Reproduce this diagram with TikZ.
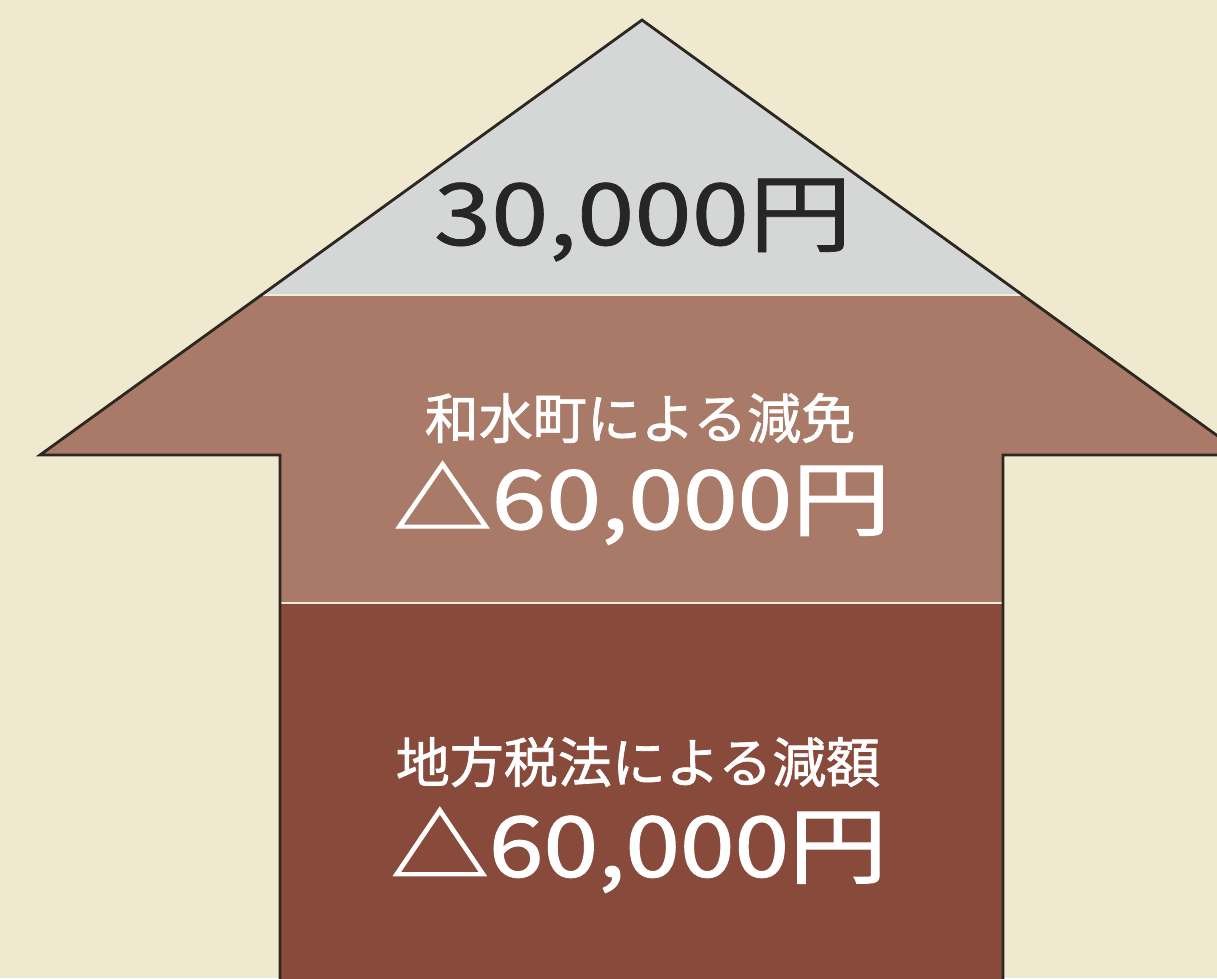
\documentclass[tikz,border=0pt]{standalone}
\usepackage{fontspec}
\newfontfamily\jp[FakeBold=1.3]{Noto Sans CJK JP}
\newfontfamily\jpl[FakeBold=0.8]{Noto Sans CJK JP}
\definecolor{bgcream}{HTML}{EFE9D0}
\definecolor{topgray}{HTML}{D4D7D6}
\definecolor{midbrown}{HTML}{A97A68}
\definecolor{darkbrown}{HTML}{884A3B}
\definecolor{outl}{HTML}{2E2620}
\definecolor{sepline}{HTML}{F2EADA}
\tikzset{
  lbl/.style={inner sep=0pt, text=white, font=\jp},
}
\begin{document}
\begin{tikzpicture}[x=1pt,y=-1pt]
\useasboundingbox (0,0) rectangle (1217,978);
\fill[bgcream] (0,0) rectangle (1217,978);
\def\arrowpath{(642,20) -- (1244,455) -- (1003,455) -- (1003,990) -- (280,990) -- (280,455) -- (40,455) -- cycle}
\begin{scope}
  \clip \arrowpath;
  \fill[topgray] (0,0) rectangle (1300,295);
  \fill[midbrown] (0,295) rectangle (1300,603);
  \fill[darkbrown] (0,603) rectangle (1300,1000);
\end{scope}
\coordinate (s1l) at (262,295);
\coordinate (s1r) at (1022,295);
\coordinate (s2l) at (281,603);
\coordinate (s2r) at (1002,603);
\draw[sepline, line width=2.5pt] (s1l) -- (s1r);
\draw[sepline, line width=2.5pt] (s2l) -- (s2r);
\draw[outl, line width=2.8pt, line join=miter] \arrowpath;
\node[lbl, text=black!85, font=\jpl\fontsize{86}{86}\selectfont] (top) at (643,220) {\scalebox{1.2}[1]{30,000円}};
\node[lbl, font=\jp\fontsize{54}{54}\selectfont] (mid1) at (640,418) {和水町による減免};
\node[lbl, font=\jp\fontsize{82}{82}\selectfont] (mid2) at (642,503) {\scalebox{1.2}[1]{△60,000円}};
\node[lbl, font=\jp\fontsize{54}{54}\selectfont] (low1) at (638,762) {地方税法による減額};
\node[lbl, font=\jp\fontsize{84}{84}\selectfont] (low2) at (639,850) {\scalebox{1.17}[1]{△60,000円}};
\end{tikzpicture}
\end{document}
